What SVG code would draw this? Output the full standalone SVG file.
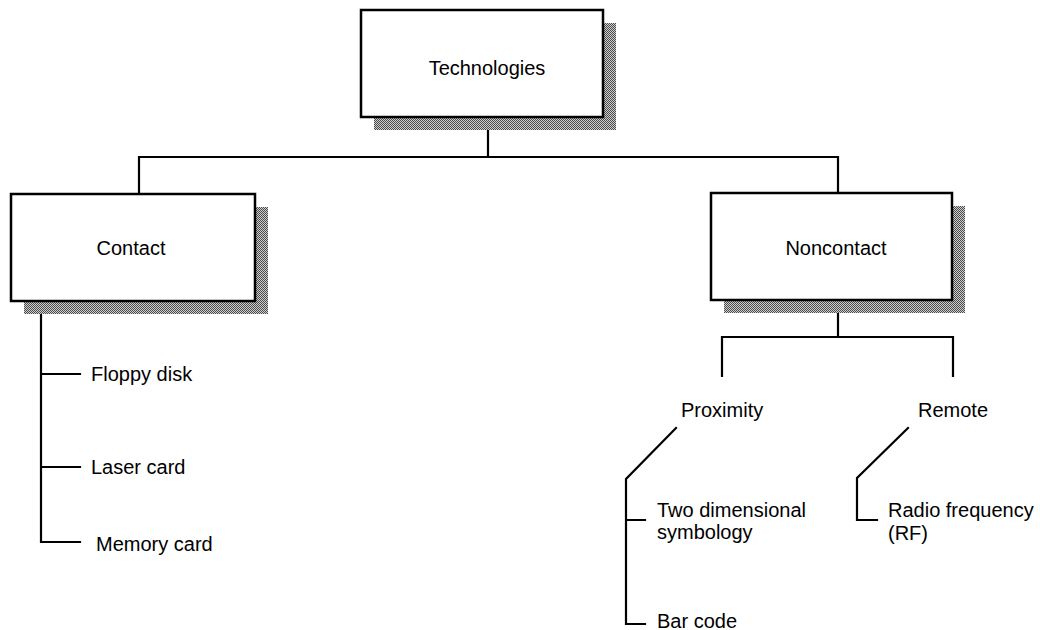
<svg xmlns="http://www.w3.org/2000/svg" width="1040" height="630" viewBox="0 0 1040 630">
<style>
.box{fill:#fff;stroke:#000;stroke-width:2.5}
.shadow{fill:url(#halftone)}
.ln{fill:none;stroke:#000;stroke-width:2.2;stroke-linecap:square}
text{font-family:"Liberation Sans",Arial,sans-serif;font-size:20px;fill:#000}
.c{text-anchor:middle}
</style>
<defs>
<pattern id="halftone" width="2" height="2" patternUnits="userSpaceOnUse">
<rect width="2" height="2" fill="#cfcfcf"/>
<rect width="1" height="1" fill="#4a4a4a"/>
<rect x="1" y="1" width="1" height="1" fill="#4a4a4a"/>
</pattern>
</defs>
<rect width="1040" height="630" fill="#fff"/>
<g id="connectors">
<path class="ln" d="M488 117 V157 M139 157 H838 M139 157 V194 M838 157 V193"/>
<path class="ln" d="M41 301 V542 H80 M41 374 H80 M41 467 H80"/>
<path class="ln" d="M838 300 V337 M722 376 V337 H953 V376"/>
<path class="ln" d="M676 428 L626 479 V624 H645 M626 520 H645"/>
<path class="ln" d="M908 428 L857 478 V520 H877"/>
</g>
<g id="technologies">
<rect class="shadow" x="374" y="23" width="242" height="107"/>
<rect class="box" x="361" y="10" width="242" height="107"/>
<text class="c" x="487" y="75">Technologies</text>
</g>
<g id="contact">
<rect class="shadow" x="24" y="207" width="244" height="107"/>
<rect class="box" x="11" y="194" width="244" height="107"/>
<text class="c" x="131" y="255">Contact</text>
</g>
<g id="noncontact">
<rect class="shadow" x="724" y="206" width="241" height="107"/>
<rect class="box" x="711" y="193" width="241" height="107"/>
<text class="c" x="836" y="255">Noncontact</text>
</g>
<g id="floppy"><text x="91" y="381">Floppy disk</text></g>
<g id="laser"><text x="91" y="474">Laser card</text></g>
<g id="memory"><text x="96" y="551">Memory card</text></g>
<g id="proximity"><text x="681" y="417">Proximity</text></g>
<g id="remote"><text x="918" y="417">Remote</text></g>
<g id="twodim"><text x="657" y="517">Two dimensional</text><text x="657" y="539">symbology</text></g>
<g id="barcode"><text x="657" y="628">Bar code</text></g>
<g id="rf"><text x="888" y="517">Radio frequency</text><text x="888" y="540">(RF)</text></g>
</svg>
